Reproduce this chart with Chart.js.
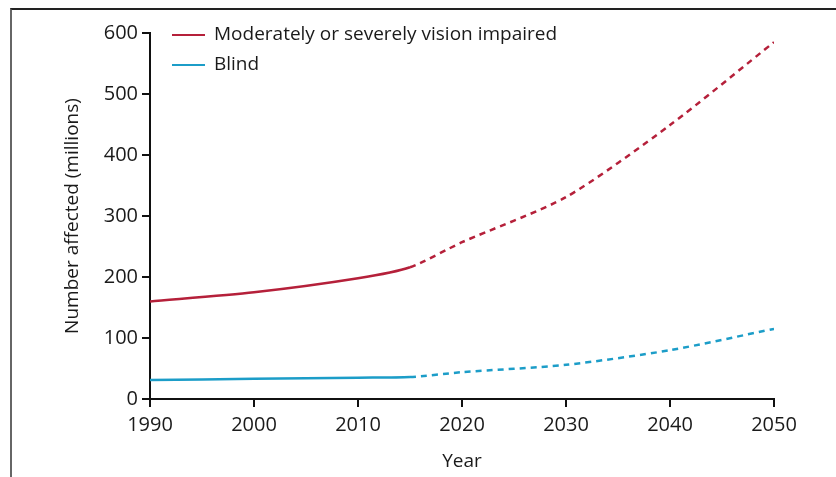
<!DOCTYPE html>
<html>
<head>
	<title>Vision impairment projection</title>
	<script src="https://cdn.jsdelivr.net/npm/chart.js"></script>
	<style>
		body { margin: 0; background: #fff; }
		.frame {
			position: absolute;
			left: 10px; top: 8px; right: 0; bottom: 0;
			border-top: 2px solid #222;
			border-left: 2px solid #666;
		}
		#wrap { position: absolute; left: 0; top: 0; width: 836px; height: 477px; }
		.legend {
			position: absolute; left: 172px; top: 19px;
			font-family: "Open Sans", sans-serif; font-size: 19px; color: #1a1a1a;
		}
		.legend div { height: 30px; line-height: 28px; }
		.legend span.sw { display: inline-block; width: 33px; height: 2px; vertical-align: middle; margin-right: 9px; }
	</style>
</head>
<body>
	<div class="frame"></div>
	<div id="wrap"><canvas id="myChart" width="836" height="477"></canvas></div>
	<div class="legend" id="legend"></div>
	<script>
		var years = [1990, 2000, 2010, 2015, 2020, 2030, 2040, 2050];
		var impaired = [160, 175, 198, 216, 257, 331, 449, 585];
		var blind = [31, 33, 35, 36, 44, 56, 80, 115];
		var yTicks = [0, 100, 200, 300, 400, 500, 600];
		var xTicks = [1990, 2000, 2010, 2020, 2030, 2040, 2050];
		var lastObserved = 2015;

		function pts(vals) {
			return years.map(function (y, i) { return { x: y, y: vals[i] }; });
		}
		var dash = function (ctx) { return ctx.p0.parsed.x >= lastObserved ? [6, 5] : undefined; };

		var datasets = [
			{ label: 'Moderately or severely vision impaired', data: pts(impaired), borderColor: '#b5203a' },
			{ label: 'Blind', data: pts(blind), borderColor: '#1c9dc8' }
		];
		datasets.forEach(function (d) {
			d.borderWidth = 2.5;
			d.pointRadius = 0;
			d.tension = 0.25;
			d.segment = { borderDash: dash };
		});

		var tickFont = { family: '"Open Sans", sans-serif', size: 20 };
		var titleFont = { family: '"Open Sans", sans-serif', size: 19 };
		var ctx = document.getElementById('myChart').getContext('2d');
		var chart = new Chart(ctx, {
			type: 'line',
			data: { datasets: datasets },
			options: {
				responsive: false,
				animation: false,
				layout: { padding: { left: 0, right: 62, top: 33, bottom: 0 } },
				plugins: { legend: { display: false }, tooltip: { enabled: false } },
				scales: {
					x: {
						type: 'linear', min: 1990, max: 2050,
						afterBuildTicks: function (s) { s.ticks = xTicks.map(function (v) { return { value: v }; }); },
						afterFit: function (s) { s.height = 78; },
						grid: { drawOnChartArea: false, drawTicks: true, tickLength: 8, color: '#111', lineWidth: 2 },
						border: { display: true, color: '#111', width: 2 },
						ticks: { color: '#1a1a1a', font: tickFont, padding: 6, maxRotation: 0, callback: function (v) { return String(v); } },
						title: { display: true, text: 'Year', color: '#1a1a1a', font: titleFont, padding: { top: 1 } }
					},
					y: {
						min: 0, max: 600,
						afterBuildTicks: function (s) { s.ticks = yTicks.map(function (v) { return { value: v }; }); },
						afterFit: function (s) { s.width = 150; },
						grid: { drawOnChartArea: false, drawTicks: true, tickLength: 8, color: '#111', lineWidth: 2 },
						border: { display: true, color: '#111', width: 2 },
						ticks: { color: '#1a1a1a', font: tickFont, padding: 4 },
						title: { display: true, text: 'Number affected (millions)', color: '#1a1a1a', font: titleFont, padding: { top: 61 } }
					}
				}
			}
		});

		var lg = document.getElementById('legend');
		datasets.forEach(function (d) {
			var row = document.createElement('div');
			var sw = document.createElement('span');
			sw.className = 'sw';
			sw.style.background = d.borderColor;
			row.appendChild(sw);
			row.appendChild(document.createTextNode(d.label));
			lg.appendChild(row);
		});
	</script>
</body>
</html>
